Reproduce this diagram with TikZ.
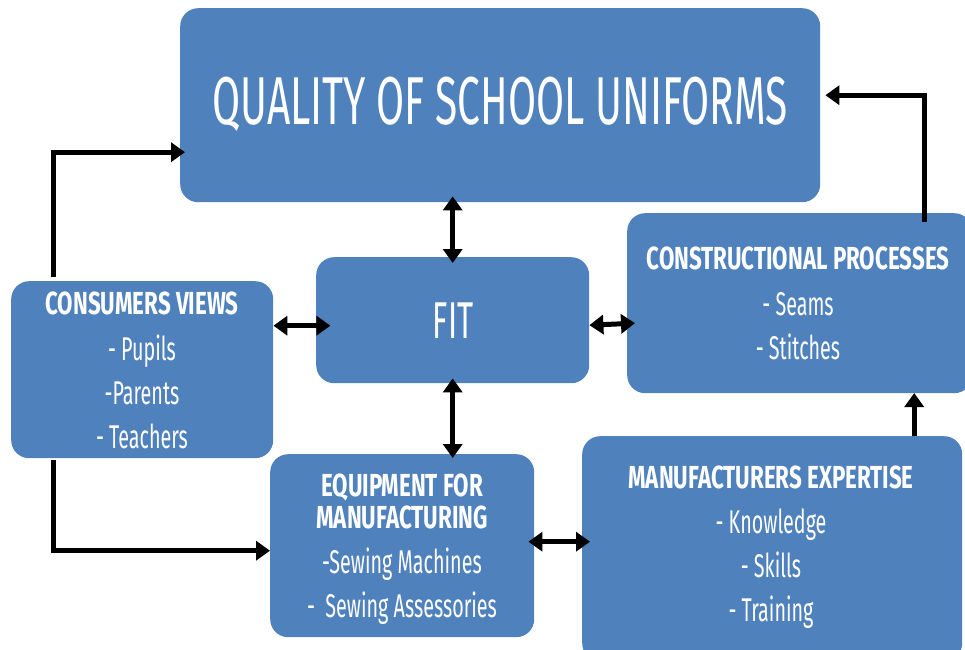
\documentclass[tikz,border=0pt]{standalone}
\usepackage{fontspec}
\setmainfont{Fira Sans}[FakeStretch=0.6]
\newfontfamily\headfont{Fira Sans}[FakeStretch=0.7]
\usetikzlibrary{arrows.meta,calc}
\definecolor{boxblue}{HTML}{4F81BD}
\tikzset{
  panel/.style={fill=boxblue, draw=none, rounded corners=18bp, anchor=north west, inner sep=0pt},
  head/.style={text=white, font=\headfont\bfseries\fontsize{32}{36}\selectfont, inner sep=0pt, anchor=base},
  item/.style={text=white, font=\fontsize{33}{36}\selectfont, inner sep=0pt, anchor=base},
  link/.style={line width=5bp, draw=black},
  both/.style={link, {Triangle[length=14bp,width=19bp]}-{Triangle[length=14bp,width=19bp]}},
  one/.style={link, -{Triangle[length=14bp,width=19bp]}},
}
\begin{document}
\begin{tikzpicture}[x=1bp, y=-1bp]
\useasboundingbox (0,0) rectangle (965,650);

% boxes
\node[panel, minimum width=640bp, minimum height=194bp] (title) at (180,8) {};
\node[panel, minimum width=273bp, minimum height=126bp] (fit) at (316,257) {};
\node[panel, minimum width=345bp, minimum height=180bp] (cons) at (627,213) {};
\node[panel, minimum width=262bp, minimum height=177bp] (view) at (11,281) {};
\node[panel, minimum width=264bp, minimum height=183bp] (equip) at (270,454) {};
\node[panel, minimum width=380bp, minimum height=225bp] (manu) at (582,436) {};

% texts (placed on their baselines)
\node[text=white, font=\fontsize{68}{74}\selectfont, inner sep=0pt, anchor=base] (tt) at (500,125) {QUALITY OF SCHOOL UNIFORMS};
\node[text=white, font=\fontsize{52}{58}\selectfont, inner sep=0pt, anchor=base] (ft) at (453,338) {FIT};

\node[head] (vh) at (142,314) {CONSUMERS VIEWS};
\node[item] (v1) at (142,360) {- Pupils};
\node[item] (v2) at (142,404) {-Parents};
\node[item] (v3) at (142,448) {- Teachers};

\node[head] (ch) at (798,269) {CONSTRUCTIONAL PROCESSES};
\node[item] (c1) at (798,315) {- Seams};
\node[item] (c2) at (798,359) {- Stitches};

\node[head] (eh1) at (402,496) {EQUIPMENT FOR};
\node[head] (eh2) at (402,528) {MANUFACTURING};
\node[item] (e1) at (402,573) {-Sewing Machines};
\node[item] (e2) at (402,617) {-\ \ Sewing Assessories};

\node[head] (mh) at (771,488) {MANUFACTURERS EXPERTISE};
\node[item] (m1) at (771,533) {- Knowledge};
\node[item] (m2) at (771,577) {- Skills};
\node[item] (m3) at (771,621) {- Training};

% connectors
\coordinate (vTop) at (53,277);
\coordinate (vBot) at (53,460);
\coordinate (cTop) at (924,222);
\draw[both] ($(fit.north)+(0,6)$) -- ($(fit.north |- title.south)+(0,-6)$);
\draw[both] ($(fit.south)+(0,-5)$) -- ($(fit.south |- equip.north)+(0,4)$);
\draw[both] ($(view.east)+(0,-44)$) -- ++(57,0);
\draw[both] ($(fit.east)+(0,5)$) -- ($(cons.west)+(8,20)$);
\draw[both] ($(equip.east)+(-6,-4)$) -- ($(manu.west |- equip.east)+(8,-4)$);
\draw[one] ($(manu.north)+(142,0)$) -- ++(0,-43);
\draw[one] (cTop) |- ($(title.east)+(5,-10)$);
\draw[one] (vTop) |- ($(title.west)+(5,47)$);
\draw[one] (vBot) |- ($(equip.west)+(0,5)$);
\end{tikzpicture}
\end{document}
